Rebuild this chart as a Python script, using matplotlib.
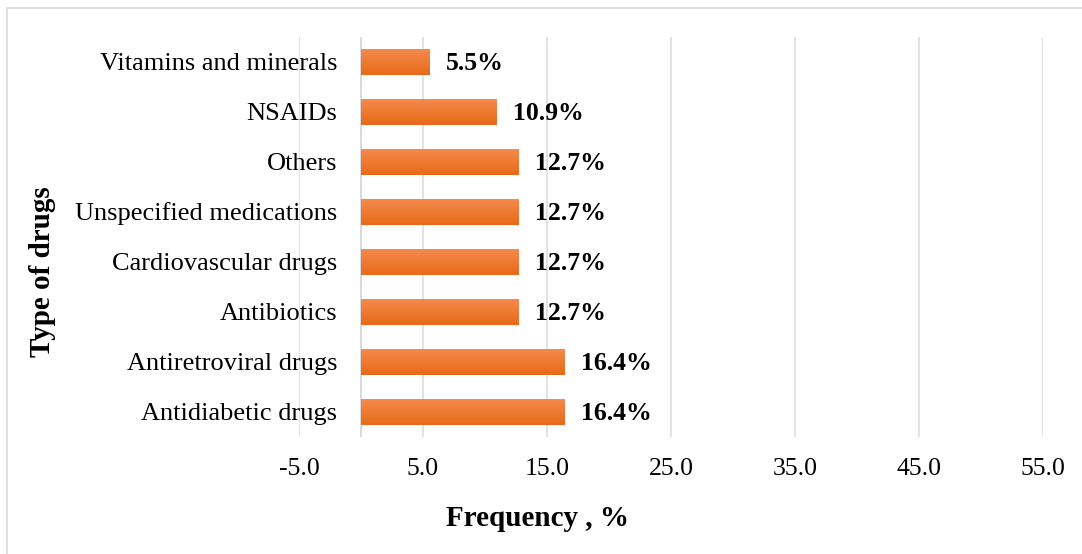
import numpy as np
import matplotlib.pyplot as plt
import matplotlib
from matplotlib.patches import Rectangle

matplotlib.rcParams['font.family'] = 'Liberation Serif'

drugs = ["Antidiabetic drugs", "Antiretroviral drugs", "Antibiotics",
         "Cardiovascular drugs", "Unspecified medications", "Others",
         "NSAIDs", "Vitamins and minerals"]
freq = [16.4, 16.4, 12.7, 12.7, 12.7, 12.7, 10.9, 5.5]
xticks = [-5, 5, 15, 25, 35, 45, 55]

W, H = 1082, 554
fig = plt.figure(figsize=(W / 100, H / 100), dpi=100)
ax = fig.add_axes([299 / W, 1 - 437 / H, (1043 - 299) / W, 400 / H])

# light frame round the chart
fig.patches.append(Rectangle((7 / W, -0.1), 1.2, 1 - 8 / H + 0.1, transform=fig.transFigure,
                             fill=False, edgecolor="#D9D9D9", linewidth=1.2))

y = np.arange(len(drugs))
bars = ax.barh(y, freq, height=0.52, color="#EE7728", zorder=3)

# vertical gradient on the bars, lighter on top
grad = np.linspace(0, 1, 64).reshape(-1, 1)
cmap = matplotlib.colors.LinearSegmentedColormap.from_list("og", ["#F48A4C", "#E86A18"])
for b in bars:
    x0, y0 = b.get_x(), b.get_y()
    im = ax.imshow(grad, cmap=cmap, aspect="auto", zorder=4,
                   extent=[x0, x0 + b.get_width(), y0, y0 + b.get_height()])
    im.set_clip_path(b)

for yi, v in zip(y, freq):
    ax.annotate(f"{v}%", (v, yi), xytext=(12, -1), textcoords="offset points",
                va="center", ha="left", fontsize=18.5, fontweight="bold", zorder=5)

# category names sit next to the axis at x = 0 (Excel style)
ax.set_yticks(y)
ax.set_yticklabels([])
for yi, name in zip(y, drugs):
    ax.annotate(name, (0, yi), xytext=(-17, -1.2), textcoords="offset points",
                va="center", ha="right", fontsize=19, annotation_clip=False)

ax.set_xlim(-5, 55)
ax.set_ylim(-0.5, len(drugs) - 0.5)
ax.set_xticks(xticks)
ax.set_xticklabels([f"{t:.1f}" for t in xticks], fontsize=18.5)
ax.tick_params(length=0)
ax.tick_params(axis="x", pad=15)
ax.grid(axis="x", color="#D9DDE5", linewidth=1.2, zorder=0)
for s in ax.spines.values():
    s.set_visible(False)
ax.axvline(0, color="#D0D4DC", linewidth=1.2, zorder=2)

fig.text(538 / W, 1 - 519 / H, "Frequency , %", ha="center", va="center",
         fontsize=21, fontweight="bold")
fig.text(43 / W, 1 - 272 / H, "Type of drugs", rotation=90, ha="center", va="center",
         fontsize=21, fontweight="bold")

fig.savefig("out.png", dpi=100)
